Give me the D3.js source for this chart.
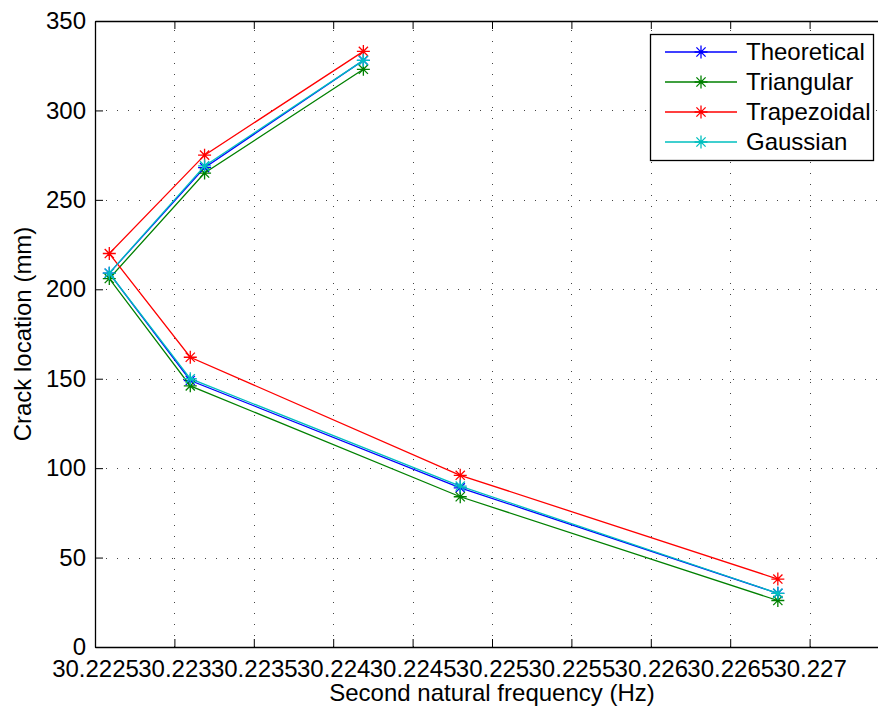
<!DOCTYPE html>
<html>
<head>
<meta charset="utf-8">
<script src="https://cdn.jsdelivr.net/npm/d3@7"></script>
<style>
  html, body { margin: 0; padding: 0; background: #fff; }
  svg { display: block; font-family: "Liberation Sans", Arial, sans-serif; }
</style>
</head>
<body>
<svg id="chart" width="878" height="714"></svg>
<script>
// Second natural frequency (Hz) for each crack location
const frequency = [30.2268, 30.2248, 30.2231, 30.22259, 30.22319, 30.22419];

// Crack location (mm) per model
const theoretical = [30, 89, 149, 209, 268, 328];
const triangular  = [26, 84, 146, 206, 265, 323];
const trapezoidal = [38, 96, 162, 220, 275, 333];
const gaussian    = [30, 90, 150, 209, 269, 328];

const seriesNames  = ["Theoretical", "Triangular", "Trapezoidal", "Gaussian"];
const seriesValues = [theoretical, triangular, trapezoidal, gaussian];
const seriesColors = ["#0000ff", "#008000", "#ff0000", "#00bfbf"];

const xTicks = [30.2225, 30.223, 30.2235, 30.224, 30.2245, 30.225, 30.2255, 30.226, 30.2265, 30.227];
const yTicks = [0, 50, 100, 150, 200, 250, 300, 350];

const svg = d3.select("#chart");
const W = 878, H = 714;
const m = { left: 95, top: 21, right: 889, bottom: 647 };

const x = d3.scaleLinear().domain([30.2225, 30.2275]).range([m.left, m.right]);
const y = d3.scaleLinear().domain([0, 350]).range([m.bottom, m.top]);

svg.append("rect").attr("width", W).attr("height", H).attr("fill", "#fff");

// dotted grid
const grid = svg.append("g").attr("stroke", "#444").attr("stroke-width", 1)
  .attr("stroke-dasharray", "1,10").attr("shape-rendering", "crispEdges");
grid.selectAll("line.gx").data(xTicks).join("line")
  .attr("x1", d => Math.round(x(d)) + 0.5).attr("x2", d => Math.round(x(d)) + 0.5)
  .attr("y1", m.bottom).attr("y2", m.top);
grid.selectAll("line.gy").data(yTicks).join("line")
  .attr("y1", d => Math.round(y(d)) + 0.5).attr("y2", d => Math.round(y(d)) + 0.5)
  .attr("x1", m.left).attr("x2", m.right);

// axes with inward ticks
const tickLen = 8;
const fmtX = d => d3.format(".4~f")(d);
const xAxisB = svg.append("g").attr("transform", `translate(0,${m.bottom})`)
  .call(d3.axisBottom(x).tickValues(xTicks).tickFormat(fmtX).tickSizeInner(-tickLen).tickSizeOuter(0).tickPadding(13));
const xAxisT = svg.append("g").attr("transform", `translate(0,${m.top})`)
  .call(d3.axisTop(x).tickValues(xTicks).tickFormat("").tickSizeInner(-tickLen).tickSizeOuter(0));
const yAxisL = svg.append("g").attr("transform", `translate(${m.left},0)`)
  .call(d3.axisLeft(y).tickValues(yTicks).tickSizeInner(-tickLen).tickSizeOuter(0).tickPadding(9));
const yAxisR = svg.append("g").attr("transform", `translate(${m.right},0)`)
  .call(d3.axisRight(y).tickValues(yTicks).tickFormat("").tickSizeInner(-tickLen).tickSizeOuter(0));

[xAxisB, xAxisT, yAxisL, yAxisR].forEach(g => {
  g.selectAll("path.domain").attr("stroke", "#000").attr("stroke-width", 1.3);
  g.selectAll(".tick line").attr("stroke", "#000");
  g.selectAll("text").attr("fill", "#000").attr("font-size", 24)
    .attr("font-family", "'Liberation Sans', Arial, sans-serif");
});

// axis titles
svg.append("text").attr("x", (m.left + m.right) / 2).attr("y", 701)
  .attr("text-anchor", "middle").attr("font-size", 24).attr("fill", "#000")
  .text("Second natural frequency (Hz)");
svg.append("text").attr("transform", `translate(31,${(m.top + m.bottom) / 2}) rotate(-90)`)
  .attr("text-anchor", "middle").attr("font-size", 24).attr("fill", "#000")
  .text("Crack location (mm)");

// asterisk marker path
function asterisk(r) {
  const d = r * Math.SQRT1_2;
  return `M${-r},0L${r},0M0,${-r}L0,${r}M${-d},${-d}L${d},${d}M${-d},${d}L${d},${-d}`;
}

const line = d3.line().x(d => x(d[0])).y(d => y(d[1]));
const plot = svg.append("g");
seriesValues.forEach((vals, i) => {
  const pts = frequency.map((f, j) => [f, vals[j]]);
  const g = plot.append("g");
  g.append("path").attr("d", line(pts)).attr("fill", "none")
    .attr("stroke", seriesColors[i]).attr("stroke-width", 1.3);
  g.selectAll("path.mk").data(pts).join("path").attr("class", "mk")
    .attr("transform", d => `translate(${x(d[0])},${y(d[1])})`)
    .attr("d", asterisk(6.5)).attr("fill", "none")
    .attr("stroke", seriesColors[i]).attr("stroke-width", 1.3);
});

// legend
const lg = svg.append("g");
lg.append("rect").attr("x", 650.5).attr("y", 34.5).attr("width", 223).attr("height", 126)
  .attr("fill", "#fff").attr("stroke", "#000").attr("stroke-width", 1.3);
seriesNames.forEach((name, i) => {
  const ly = 52 + i * 30;
  lg.append("line").attr("x1", 665).attr("x2", 737).attr("y1", ly).attr("y2", ly)
    .attr("stroke", seriesColors[i]).attr("stroke-width", 1.3);
  lg.append("path").attr("transform", `translate(701,${ly})`).attr("d", asterisk(6.5))
    .attr("fill", "none").attr("stroke", seriesColors[i]).attr("stroke-width", 1.3);
  lg.append("text").attr("x", 746).attr("y", ly).attr("dy", "0.35em")
    .attr("font-size", 24).attr("fill", "#000").text(name);
});
</script>
</body>
</html>
